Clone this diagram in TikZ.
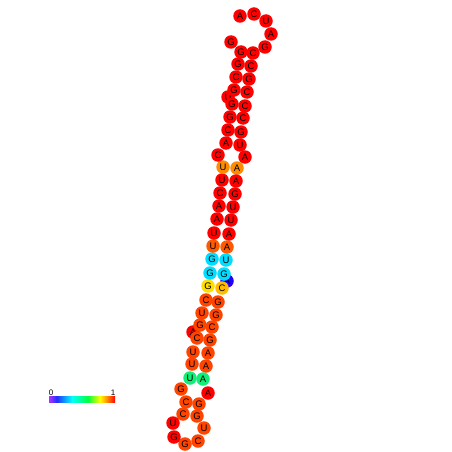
\documentclass[tikz,border=0pt]{standalone}
\usepackage{fontspec}
\setmainfont{Liberation Sans}
\usetikzlibrary{backgrounds}
\definecolor{cR}{HTML}{FF0000}
\definecolor{cOR}{HTML}{FF4400}
\definecolor{cOR2}{HTML}{FF5A00}
\definecolor{cOr}{HTML}{FF8C00}
\definecolor{cCy}{HTML}{00DDFF}
\definecolor{cBl}{HTML}{2200FF}
\definecolor{cYe}{HTML}{FFDD00}
\definecolor{cYe2}{HTML}{FFBB00}
\definecolor{cGr}{HTML}{11EE77}
\definecolor{cLine}{HTML}{404040}
\definecolor{gA}{HTML}{B030FF}
\definecolor{gB}{HTML}{2030FF}
\definecolor{gC}{HTML}{00FFFF}
\definecolor{gD}{HTML}{00FF40}
\definecolor{gE}{HTML}{FFFF00}
\definecolor{gF}{HTML}{FF8000}
\definecolor{gG}{HTML}{FF0000}
\tikzset{
  base/.style={circle, inner sep=0pt, minimum size=13.5pt, text=black,
    font=\fontsize{9.5}{9.5}\selectfont},
  bb/.style={draw=cLine, line width=0.6pt},
  pr/.style={draw=cLine, line width=0.6pt},
  lbl/.style={font=\fontsize{8}{8}\selectfont, inner sep=0pt}
}
\begin{document}
\begin{tikzpicture}[x=1pt,y=-1pt]
\useasboundingbox (0,0) rectangle (452,452);
\fill[white] (0,0) rectangle (452,452);
% nodes drawn from the 3' end back to the 5' end
\node[base, fill=cR] (n72) at (240,16) {A};
\node[base, fill=cR] (n71) at (254,14) {C};
\node[base, fill=cR] (n70) at (266,21) {U};
\node[base, fill=cR] (n69) at (271,34) {A};
\node[base, fill=cR] (n68) at (265,47) {G};
\node[base, fill=cR] (n67) at (253,53) {C};
\node[base, fill=cR] (n66) at (251,66) {C};
\node[base, fill=cR] (n65) at (249,79) {G};
\node[base, fill=cR] (n64) at (247,92) {C};
\node[base, fill=cR] (n63) at (245,106) {C};
\node[base, fill=cR] (n62) at (243,118) {C};
\node[base, fill=cR] (n61) at (241,132) {G};
\node[base, fill=cR] (n60) at (240,145) {U};
\node[base, fill=cR] (n59) at (245,157) {A};
\node[base, fill=cOr] (n58) at (237,168) {A};
\node[base, fill=cR] (n57) at (236,181) {A};
\node[base, fill=cR] (n56) at (235,194) {G};
\node[base, fill=cR] (n55) at (233,207) {U};
\node[base, fill=cR] (n54) at (231,220) {U};
\node[base, fill=cR] (n53) at (229,234) {A};
\node[base, fill=cOR2] (n52) at (227,247) {A};
\node[base, fill=cCy] (n51) at (226,260) {U};
\node[base, fill=cBl] (n49) at (227,281) {A};
\node[base, fill=cCy] (n50) at (224,274) {G};
\node[base, fill=cYe2] (n48) at (222,288) {C};
\node[base, fill=cOR] (n47) at (218,302) {G};
\node[base, fill=cOR] (n46) at (216,315) {G};
\node[base, fill=cOR] (n45) at (212,327) {C};
\node[base, fill=cOR] (n44) at (210,340) {G};
\node[base, fill=cOR] (n43) at (208,353) {A};
\node[base, fill=cOR] (n42) at (206,366) {A};
\node[base, fill=cGr] (n41) at (203,379) {A};
\node[base, fill=cR] (n40) at (208,393) {A};
\node[base, fill=cOR] (n39) at (199,404) {G};
\node[base, fill=cOR] (n38) at (197,416) {G};
\node[base, fill=cOR] (n37) at (204,428) {U};
\node[base, fill=cOR] (n36) at (198,441) {C};
\node[base, fill=cOR] (n35) at (185,444) {G};
\node[base, fill=cR] (n34) at (174,437) {G};
\node[base, fill=cR] (n33) at (173,423) {U};
\node[base, fill=cOR] (n32) at (183,414) {C};
\node[base, fill=cOR] (n31) at (186,402) {C};
\node[base, fill=cOR] (n30) at (181,389) {G};
\node[base, fill=cGr] (n29) at (190,378) {U};
\node[base, fill=cOR] (n28) at (192,364) {U};
\node[base, fill=cOR] (n27) at (193,352) {U};
\node[base, fill=cR] (n25) at (193,332) {A};
\node[base, fill=cOR] (n26) at (197,338) {C};
\node[base, fill=cOR] (n24) at (200,325) {G};
\node[base, fill=cOR] (n23) at (202,313) {U};
\node[base, fill=cOR] (n22) at (206,300) {C};
\node[base, fill=cYe] (n21) at (208,286) {G};
\node[base, fill=cCy] (n20) at (210,273) {G};
\node[base, fill=cCy] (n19) at (212,259) {G};
\node[base, fill=cOR2] (n18) at (213,246) {U};
\node[base, fill=cR] (n17) at (214,233) {U};
\node[base, fill=cR] (n16) at (217,219) {A};
\node[base, fill=cR] (n15) at (219,206) {A};
\node[base, fill=cR] (n14) at (220,193) {C};
\node[base, fill=cR] (n13) at (222,180) {U};
\node[base, fill=cOr] (n12) at (223,167) {U};
\node[base, fill=cR] (n11) at (218,155) {C};
\node[base, fill=cR] (n10) at (226,143) {A};
\node[base, fill=cR] (n9) at (228,130) {C};
\node[base, fill=cR] (n8) at (230,117) {G};
\node[base, fill=cR] (n6) at (228,97) {U};
\node[base, fill=cR] (n7) at (232,104) {G};
\node[base, fill=cR] (n5) at (234,90) {G};
\node[base, fill=cR] (n4) at (236,77) {C};
\node[base, fill=cR] (n3) at (238,64) {G};
\node[base, fill=cR] (n2) at (241,52) {G};
\node[base, fill=cR] (n1) at (231,42) {G};
\begin{scope}[on background layer]
\draw[bb] (n1.center) \foreach \i in {2,...,72} { -- (n\i.center) };
\foreach \a/\b in {2/67,3/66,4/65,5/64,7/63,8/62,9/61,10/60,12/58,13/57,14/56,15/55,16/54,17/53,18/52,19/51,20/50,21/48,22/47,23/46,24/45,26/44,27/43,28/42,29/41,31/39,32/38}
  \draw[pr] (n\a.center) -- (n\b.center);
\end{scope}
% colour bar
\shade[left color=gA, right color=gB] (49,396) rectangle (57,402);
\shade[left color=gB, right color=gC] (56.8,396) rectangle (72,402);
\shade[left color=gC, right color=gD] (71.8,396) rectangle (88,402);
\shade[left color=gD, right color=gE] (87.8,396) rectangle (100,402);
\shade[left color=gE, right color=gF] (99.8,396) rectangle (108,402);
\shade[left color=gF, right color=gG] (107.8,396) rectangle (115,402);
\node[lbl] (l0) at (51,393) {0};
\node[lbl] (l1) at (113,393) {1};
\end{tikzpicture}
\end{document}
